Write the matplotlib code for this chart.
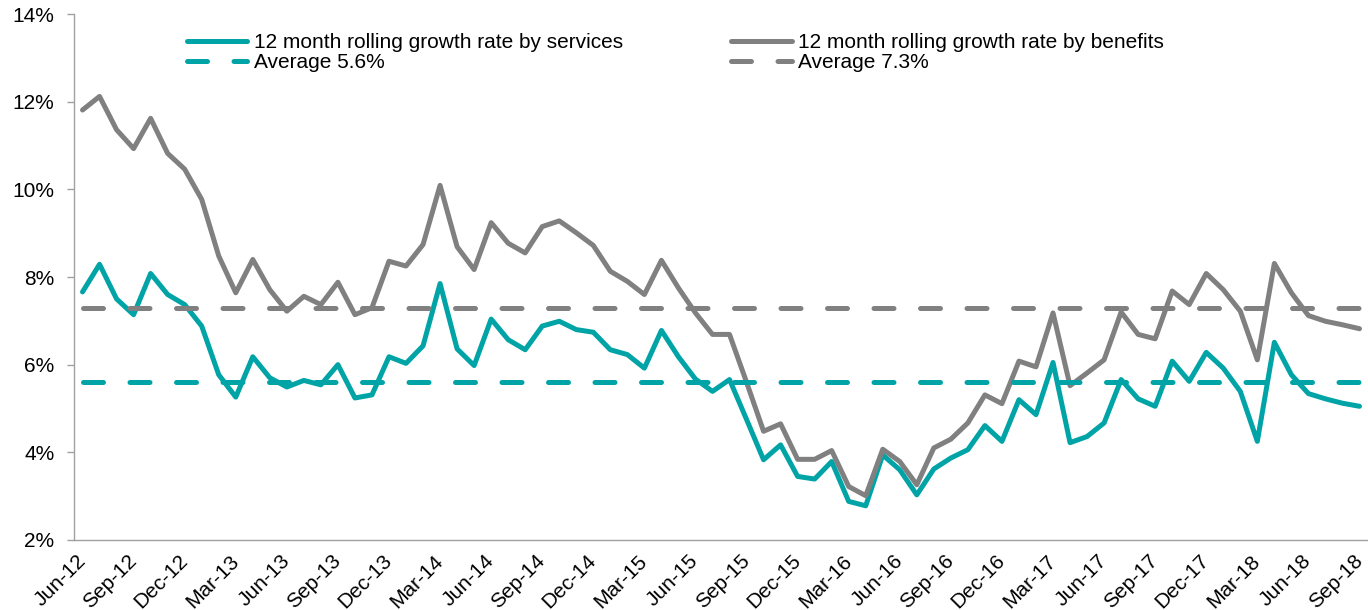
import matplotlib
matplotlib.use('Agg')
from matplotlib import pyplot as plt
from matplotlib.ticker import FuncFormatter

# monthly values, Jun-12 .. Sep-18 (%)
services = [7.66, 8.29, 7.50, 7.14, 8.08, 7.60, 7.37, 6.88, 5.77, 5.26,
            6.18, 5.70, 5.49, 5.64, 5.54, 6.00, 5.24, 5.31, 6.18, 6.03,
            6.43, 7.85, 6.36, 5.98, 7.04, 6.57, 6.34, 6.88, 6.99, 6.80,
            6.74, 6.34, 6.23, 5.92, 6.78, 6.18, 5.67, 5.39, 5.66, 4.75,
            3.83, 4.17, 3.45, 3.39, 3.79, 2.88, 2.78, 3.94, 3.60, 3.03,
            3.62, 3.87, 4.06, 4.61, 4.25, 5.20, 4.86, 6.05, 4.22, 4.36,
            4.67, 5.66, 5.22, 5.05, 6.08, 5.62, 6.28, 5.92, 5.39, 4.25,
            6.51, 5.77, 5.34, 5.22, 5.12, 5.05]
benefits = [11.81, 12.12, 11.36, 10.93, 11.62, 10.82, 10.46, 9.77, 8.48, 7.64,
            8.40, 7.71, 7.22, 7.56, 7.37, 7.88, 7.14, 7.30, 8.36, 8.25,
            8.74, 10.09, 8.69, 8.17, 9.24, 8.77, 8.55, 9.15, 9.28, 9.01,
            8.72, 8.13, 7.90, 7.60, 8.38, 7.75, 7.18, 6.69, 6.69, 5.60,
            4.48, 4.65, 3.84, 3.84, 4.04, 3.22, 3.01, 4.07, 3.79, 3.26,
            4.10, 4.30, 4.67, 5.31, 5.11, 6.08, 5.95, 7.18, 5.52, 5.81,
            6.11, 7.20, 6.69, 6.59, 7.68, 7.37, 8.08, 7.71, 7.22, 6.11,
            8.31, 7.64, 7.12, 6.99, 6.91, 6.82]
avg_services = 5.6
avg_benefits = 7.3

tick_labels = ['Jun-12', 'Sep-12', 'Dec-12', 'Mar-13', 'Jun-13', 'Sep-13', 'Dec-13',
               'Mar-14', 'Jun-14', 'Sep-14', 'Dec-14', 'Mar-15', 'Jun-15', 'Sep-15',
               'Dec-15', 'Mar-16', 'Jun-16', 'Sep-16', 'Dec-16', 'Mar-17', 'Jun-17',
               'Sep-17', 'Dec-17', 'Mar-18', 'Jun-18', 'Sep-18']

teal = '#00A4A6'
grey = '#808080'

plt.rcParams['font.family'] = ['Liberation Sans', 'DejaVu Sans']
plt.rcParams['font.size'] = 15

fig = plt.figure(figsize=(13.68, 6.10), dpi=100)
ax = fig.add_axes([0.0541, 0.1148, 0.9459, 0.8622])

x = list(range(len(services)))
lw = 3.6
dash = (4.0, 5.3)

l1, = ax.plot(x, services, color=teal, lw=lw, solid_joinstyle='round', solid_capstyle='round')
l2, = ax.plot(x, benefits, color=grey, lw=lw, solid_joinstyle='round', solid_capstyle='round')
l3, = ax.plot(x, [avg_services] * len(x), color=teal, lw=lw, dashes=dash, dash_capstyle='round')
l4, = ax.plot(x, [avg_benefits] * len(x), color=grey, lw=lw, dashes=dash, dash_capstyle='round')

ax.set_xlim(-0.5, len(x) - 0.5)
ax.set_ylim(2, 14)
ax.set_yticks(range(2, 15, 2))
ax.yaxis.set_major_formatter(FuncFormatter(lambda v, p: '{:.0f}%'.format(v)))

ax.set_xticks(range(0, len(x), 3))
ax.set_xticklabels(tick_labels, rotation=45, ha='right', va='center', rotation_mode='anchor')
ax.tick_params(axis='x', length=0, pad=13)
ax.tick_params(axis='y', length=5, width=1, color='#A0A0A0', pad=9)

for s in ['top', 'right']:
    ax.spines[s].set_visible(False)
for s in ['left', 'bottom']:
    ax.spines[s].set_color('#A0A0A0')
    ax.spines[s].set_linewidth(1)

leg = ax.legend([l1, l3, l2, l4],
                ['12 month rolling growth rate by services', 'Average 5.6%',
                 '12 month rolling growth rate by benefits', 'Average 7.3%'],
                ncol=2, frameon=False, loc='upper left',
                bbox_to_anchor=(187 / 1368, 1 - 33 / 610), bbox_transform=fig.transFigure,
                handlelength=2.9, handletextpad=0.3, columnspacing=5.2,
                labelspacing=0.05, borderpad=0, borderaxespad=0)

fig.savefig('out.png', dpi=100)
